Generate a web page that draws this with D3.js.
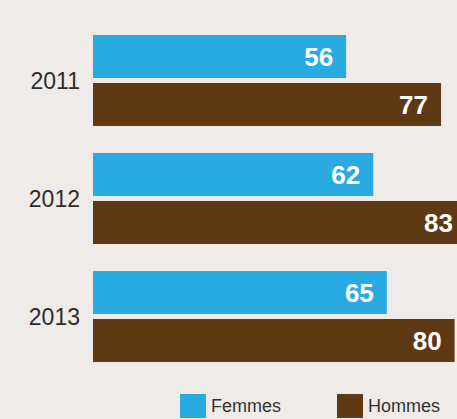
<!DOCTYPE html>
<html lang="fr">
<head>
    <meta charset="UTF-8">
    <title>Femmes / Hommes 2011-2013</title>
    <script src="https://d3js.org/d3.v7.min.js"></script>
    <style>
        body { margin: 0; background: #efebe8; }
        svg { display: block; font-family: "Liberation Sans", Arial, sans-serif; }
    </style>
</head>
<body>
    <svg id="chart" width="457" height="419"></svg>

    <script>
        // data
        const years = ["2011", "2012", "2013"];
        const series = ["Femmes", "Hommes"];
        const femmes = [56, 62, 65];
        const hommes = [77, 83, 80];
        const colors = ["#29aae1", "#5e3913"];

        const width = 457, height = 419;
        const svg = d3.select("#chart");

        const rows = years.map((y, i) => ({ year: y, values: [femmes[i], hommes[i]] }));

        const x = d3.scaleLinear().domain([0, 100]).range([93, 545]);

        // outer band = year, inner band = series
        const y0 = d3.scaleBand().domain(years).range([35, 362]).paddingInner(0.2288);
        const y1 = d3.scaleBand().domain(series).range([0, y0.bandwidth()]).paddingInner(0.104);

        const groups = svg.selectAll("g.year")
            .data(rows)
            .join("g")
            .attr("class", "year")
            .attr("transform", d => `translate(0,${y0(d.year)})`);

        // year labels
        groups.append("text")
            .attr("x", 80)
            .attr("y", y0.bandwidth() / 2)
            .attr("dy", "0.36em")
            .attr("text-anchor", "end")
            .attr("font-size", 23)
            .attr("fill", "#2e2b2a")
            .text(d => d.year);

        const bars = groups.selectAll("g.bar")
            .data(d => d.values.map((v, j) => ({ key: series[j], value: v, color: colors[j] })))
            .join("g")
            .attr("class", "bar");

        bars.append("rect")
            .attr("x", x(0))
            .attr("y", d => y1(d.key))
            .attr("width", d => x(d.value) - x(0))
            .attr("height", y1.bandwidth())
            .attr("fill", d => d.color);

        // value labels inside the bar end (kept inside the visible area)
        bars.append("text")
            .attr("x", d => Math.min(x(d.value), width + 9) - 13)
            .attr("y", d => y1(d.key) + y1.bandwidth() / 2)
            .attr("dy", "0.35em")
            .attr("text-anchor", "end")
            .attr("font-size", 26)
            .attr("font-weight", "bold")
            .attr("fill", "#ffffff")
            .text(d => d.value);

        // legend
        const legendX = d3.scalePoint().domain(series).range([180, 337]);
        const legend = svg.selectAll("g.legend")
            .data(series)
            .join("g")
            .attr("class", "legend")
            .attr("transform", d => `translate(${legendX(d)},394)`);

        legend.append("rect")
            .attr("width", 26)
            .attr("height", 24)
            .attr("fill", (d, i) => colors[i]);

        legend.append("text")
            .attr("x", 31)
            .attr("y", 18)
            .attr("font-size", 18)
            .attr("fill", "#333")
            .text(d => d);
    </script>
</body>
</html>
